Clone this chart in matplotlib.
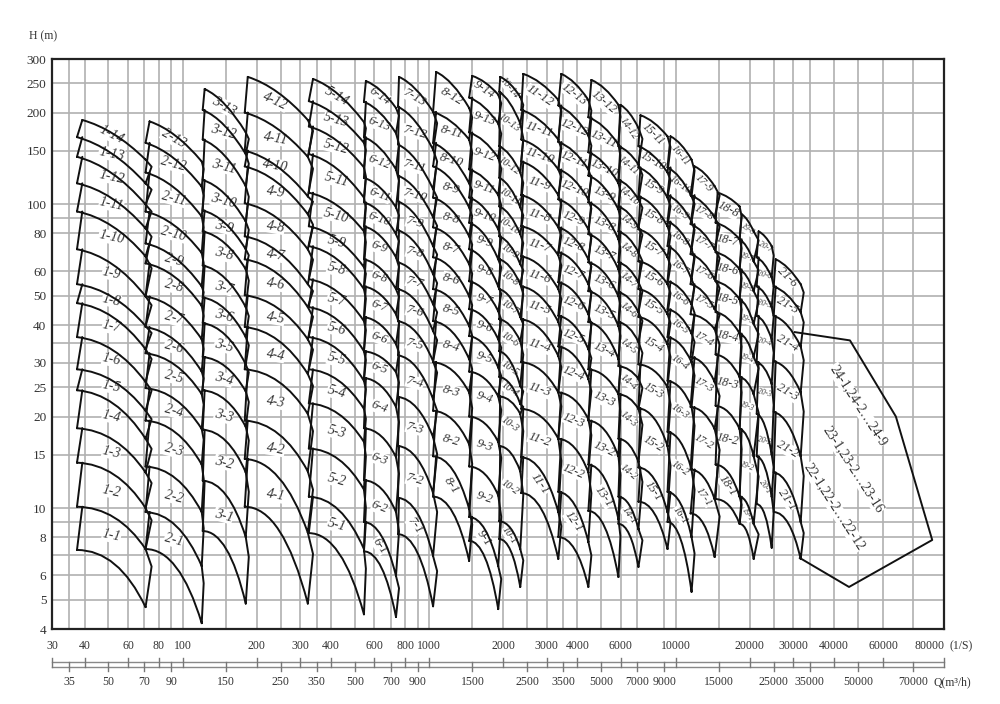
import numpy as np
import matplotlib
matplotlib.use('Agg')
import matplotlib.pyplot as plt
from matplotlib.patches import PathPatch
from matplotlib.path import Path

# Axis ticks and grid
q_upper = [30, 40, 60, 80, 100, 200, 300, 400, 600, 800, 1000, 2000, 3000, 4000, 6000, 10000, 20000, 30000, 40000, 60000, 80000]
q_lower = [35, 50, 70, 90, 150, 250, 350, 500, 700, 900, 1500, 2500, 3500, 5000, 7000, 9000, 15000, 25000, 35000, 50000, 70000]
h_labelled = [300, 250, 200, 150, 100, 80, 60, 50, 40, 30, 25, 20, 15, 10, 8, 6, 5, 4]
h_unlabelled = [90, 35, 9, 7]

# Columns of each pump family, Q at the lower/upper left corner, right end and right bulge
q_left_low = [37.4, 70.7, 120.6, 178.6, 325, 544, 748, 1038, 1454, 1926, 2366, 3345, 4429, 5866, 7072, 9279, 11508, 14540, 18200, 21350, 25020]
q_left_high = [39.2, 73.4, 122.8, 183.7, 338, 554, 755, 1068, 1496, 1944, 2411, 3440, 4555, 5976, 7205, 9543, 11946, 14820, 18550, 21740, 25500]
q_right = [70.7, 119.5, 180.3, 322, 544, 734, 1038, 1454, 1908, 2344, 3345, 4429, 5866, 7072, 9279, 11615, 14410, 18200, 20750, 24560, 32200]
q_bulge = [74.8, 121.7, 185.5, 338, 554, 755, 1078, 1496, 1962, 2411, 3440, 4555, 5976, 7340, 9543, 11946, 15100, 18550, 21740, 25020, 33130]

# Head at the left and right end of each curve, bottom curve first
h_left_1 = [7.28, 10.1, 14.1, 18.3, 24.4, 28.6, 36.5, 47.2, 54.5, 71, 94.5, 117, 143, 166, 189]
h_right_1 = [4.72, 7.33, 10, 13.1, 16.9, 20.9, 26, 33.3, 39.7, 49.7, 67.3, 83.2, 99.7, 117, 140]
h_left_2 = [7.33, 9.7, 13.7, 19.4, 24.8, 32.3, 39.4, 49.7, 63.8, 74.2, 94.5, 127, 159, 187]
h_right_2 = [4.18, 6.44, 9.7, 13.9, 18.2, 23.7, 28.1, 35.9, 46.2, 53.6, 69, 91, 114, 138]
h_left_3 = [8.4, 12.3, 18.1, 24.4, 31.4, 40.6, 49.3, 62.8, 81.3, 95.3, 120, 163, 204, 239]
h_right_3 = [4.85, 8.03, 13.1, 18.5, 24.2, 29.7, 36.5, 45.8, 61, 71, 87.6, 114.5, 146, 172]
h_left_4 = [10.1, 14.5, 19.4, 28.6, 39.4, 50.1, 65.8, 78.3, 100.6, 133, 150, 200, 262]
h_right_4 = [4.85, 8.3, 13.2, 20.4, 27.6, 35.9, 45.8, 54.5, 71, 92.6, 106, 143, 189]
h_left_5 = [8.27, 10.9, 15.7, 22.1, 28.6, 36.5, 45.8, 56.6, 72.7, 84.5, 109, 146, 180, 218, 258]
h_right_5 = [4.47, 7.33, 11.5, 16.5, 21.2, 26.2, 32.8, 41.2, 52.5, 62, 81.3, 105, 132, 159, 186]
h_left_6 = [7.2, 9, 12.35, 18.3, 26.8, 32.8, 42.5, 53.6, 65.8, 84.5, 101.3, 122, 166, 217, 254]
h_right_6 = [4.38, 5.98, 9.7, 14.7, 21.5, 28, 34.6, 43.4, 52.5, 66.8, 79.6, 97.5, 130, 171, 207]
h_left_7 = [8.2, 10.8, 16, 23.2, 31.8, 41.2, 52.5, 64.3, 82, 102, 124, 157, 209, 262]
h_right_7 = [4.75, 6.95, 11.2, 17.1, 22.8, 30.4, 38.2, 46.8, 58.8, 72.7, 90.5, 112, 151, 201]
h_left_8 = [10.9, 14.8, 20.9, 30.2, 41.2, 52.5, 66.8, 83.8, 105, 133, 159, 201, 272]
h_right_8 = [6.7, 9.93, 16.2, 24, 30.9, 39.7, 49.7, 63.4, 78.3, 97.5, 117, 163, 207]
h_left_9 = [7.8, 9.35, 13.7, 20, 28.1, 36.8, 45.1, 55.7, 71, 86.8, 105, 130, 172, 224, 264]
h_right_9 = [4.65, 6.44, 11, 16.5, 23.3, 29, 35.9, 44.4, 53.6, 65.8, 82.6, 107, 142, 184, 229]
h_left_10 = [7.91, 9.05, 16, 23.3, 27, 32.8, 41.8, 52.5, 65.8, 78.3, 98.2, 122, 155, 234, 262]
h_right_10 = [5.5, 7.33, 13.2, 20.4, 22, 25.2, 35.4, 42.5, 54.5, 63.4, 79.6, 97.5, 127, 184, 225]
h_left_11 = [11.2, 14.7, 21.2, 30.2, 41.8, 53.6, 67.3, 84.5, 107, 138, 163, 204, 268]
h_right_11 = [6.8, 9.7, 16.9, 24, 31.6, 40.9, 52.5, 67.8, 83.8, 107, 130, 163, 220]
h_left_12 = [8.03, 11.3, 16.9, 24, 34, 42.9, 55.3, 69.4, 83.8, 103.6, 130, 160, 211, 268]
h_right_12 = [5.5, 7.74, 13.1, 19.6, 26.6, 33.3, 43.4, 54.5, 65.8, 82.6, 103.6, 130, 168, 220]
h_left_13 = [9.78, 13.9, 19.4, 28.6, 40.9, 51.7, 64.3, 79.6, 101.3, 124, 148, 193, 256]
h_right_13 = [5.93, 9.2, 14.8, 23.7, 30.9, 39.7, 49.7, 61, 76.6, 96, 117, 157, 212]
h_left_14 = [8.87, 10.9, 16.9, 23.7, 29.3, 40.9, 51.3, 64.3, 81.3, 98.2, 120, 155, 212]
h_right_14 = [6.4, 8.53, 14.2, 21.2, 26.6, 35.2, 44.1, 55.3, 69.4, 83.8, 103.6, 135, 178]
h_left_15 = [10.5, 13.6, 21.3, 29.7, 42.5, 52.5, 64.8, 82.6, 106, 132, 155, 196]
h_right_15 = [7.33, 9.7, 16, 25, 34.6, 43.4, 54.5, 66.8, 84.5, 105, 127, 167]
h_left_16 = [9, 11.3, 17.8, 26.2, 36.5, 45.1, 55.7, 72.7, 87.6, 107, 132, 167]
h_right_16 = [5.3, 8.03, 13.4, 21.5, 30.2, 37.5, 46.8, 56.6, 71, 87.6, 106, 140]
h_left_17 = [9.6, 13.4, 21.5, 31.4, 43.4, 54.5, 68.4, 85.9, 107, 133]
h_right_17 = [6.9, 10.7, 18.2, 26, 38.8, 45.1, 56.6, 71, 90.5, 114.5]
h_left_18 = [10.7, 13.9, 21.7, 32, 44.1, 55.7, 69.4, 86.8, 109]
h_right_18 = [8.87, 10.9, 18.2, 27, 37.5, 48.6, 61, 76.6, 98.2]
h_left_19 = [8.87, 10.9, 18.2, 27, 37.5, 48.6, 61, 76.6, 92.6]
h_right_19 = [6.8, 8.87, 14.8, 23.7, 31.4, 40.3, 51.7, 64.8, 81.3]
h_left_20 = [10.3, 14.8, 20.4, 30.2, 42.9, 53.6, 66.8, 81.3]
h_right_20 = [7.4, 10.9, 15, 25.6, 35.9, 45.8, 57.5, 72.7]
h_left_21 = [9.7, 13.1, 20.7, 30.4, 42.9, 53.6, 65.8]
h_right_21 = [6.8, 9, 14.8, 24, 34, 44.1, 54.5]

h_left = [h_left_1, h_left_2, h_left_3, h_left_4, h_left_5, h_left_6, h_left_7,
          h_left_8, h_left_9, h_left_10, h_left_11, h_left_12, h_left_13, h_left_14,
          h_left_15, h_left_16, h_left_17, h_left_18, h_left_19, h_left_20, h_left_21]
h_right = [h_right_1, h_right_2, h_right_3, h_right_4, h_right_5, h_right_6, h_right_7,
           h_right_8, h_right_9, h_right_10, h_right_11, h_right_12, h_right_13, h_right_14,
           h_right_15, h_right_16, h_right_17, h_right_18, h_right_19, h_right_20, h_right_21]

# Big open polygon for series 22 to 24
poly_q = [30500, 46400, 64100, 81800, 46000, 31950]
poly_h = [37.9, 35.6, 20, 7.85, 5.5, 6.85]
poly_labels = ['24-1,24-2\u202624-9', '23-1,23-2\u202623-16', '22-1,22-2\u202622-12']
poly_label_q = [50000, 47800, 40000]
poly_label_h = [21.8, 13.4, 10.1]

label_rot = [-12, -15, -15, -10, -15, -20, -15, -15, -18, -35, -18, -22, -25, -40, -30, -35, -30, -12, -20, -15, -30]
label_size = [10, 10, 10, 10, 10, 9, 9.5, 9.5, 9, 7.5, 9.5, 9, 9, 7.5, 8.5, 7.5, 8, 9, 5.5, 5.5, 9]

# The printed Q axis is log up to 35000 and stretched after that
anchor_q = np.log10([30, 40, 35000, 40000, 50000, 60000, 70000, 90000])
anchor_pos = np.array([52, 84.6, 809.6, 834, 858, 883, 913, 944.0])


def forward(x):
    a = np.asarray(x, dtype=float)
    return np.interp(np.log10(np.clip(a, 1, None)).ravel(), anchor_q, anchor_pos).reshape(a.shape)


def inverse(v):
    a = np.asarray(v, dtype=float)
    return (10 ** np.interp(a.ravel(), anchor_pos, anchor_q)).reshape(a.shape)


plt.rcParams['font.family'] = ['Liberation Serif']
tick_font = 8.5
line_col = '#111111'
text_col = '#333333'

fig = plt.figure(figsize=(10, 7.04), dpi=100)
ax = fig.add_axes([0.052, 1 - 629 / 704, 0.892, 570 / 704])
ax.set_xscale('function', functions=(forward, inverse))
ax.set_yscale('log')
ax.set_xlim(30, 90000)
ax.set_ylim(4, 300)

grid_q = sorted(set(q_upper + q_lower) - {80000})
ax.set_xticks(grid_q)
ax.set_xticklabels([])
ax.set_yticks(h_labelled + h_unlabelled)
ax.set_yticklabels([str(h) for h in h_labelled] + [''] * len(h_unlabelled), fontsize=9.5, color=text_col)
ax.xaxis.set_minor_locator(plt.NullLocator())
ax.yaxis.set_minor_locator(plt.NullLocator())
ax.tick_params(length=0, pad=4)
ax.grid(True, color='#b0b0b0', linewidth=1.2)
ax.set_axisbelow(True)
for s in ax.spines.values():
    s.set_linewidth(1.6)
    s.set_color('#222222')

# Pump families
for f in range(len(h_left)):
    xa, xb, xr, xs = q_left_low[f], q_left_high[f], q_right[f], q_bulge[f]
    verts = []
    codes = []
    n = len(h_left[f])
    for k in range(n):
        hl, hr = h_left[f][k], h_right[f][k]
        start = xb if k == n - 1 else xa
        up = k / (n - 1)
        cf = 0.6 - 0.1 * up
        xc = start ** (1 - cf) * xr ** cf
        hc = hl * (hr / hl) ** (0.22 * up)
        verts += [(start, hl), (xc, hc), (xr, hr)]
        codes += [Path.MOVETO, Path.CURVE3, Path.CURVE3]
        if k < n - 1:
            # left edge up to the next curve
            verts += [(xa, hl), (xb, h_left[f][k + 1])]
            codes += [Path.MOVETO, Path.LINETO]
            # right edge with its bulge
            hu = h_right[f][k + 1]
            verts += [(xr, hu), (xs, hu ** 0.7 * hr ** 0.3), (xr, hr)]
            codes += [Path.MOVETO, Path.LINETO, Path.LINETO]
    ax.add_patch(PathPatch(Path(verts, codes), fill=False, edgecolor=line_col, linewidth=1.4,
                           capstyle='round', joinstyle='round', zorder=3))

    # region labels sit under the curves and cut the grid
    lx = xb ** 0.54 * xr ** 0.46
    for k in range(n - 1):
        lo = h_left[f][k] * (h_right[f][k] / h_left[f][k]) ** 0.15
        up = h_left[f][k + 1] * (h_right[f][k + 1] / h_left[f][k + 1]) ** 0.15
        rot = label_rot[f]
        if k == 0 and f >= 5:
            rot = -55
        if k == n - 2:
            rot -= 15
        ax.text(lx, (lo * up) ** 0.5, f'{f + 1}-{k + 1}', fontsize=label_size[f], style='italic',
                color=text_col, rotation=rot, rotation_mode='anchor', ha='center', va='center',
                zorder=2.5, bbox=dict(facecolor='white', edgecolor='none', pad=0.2))

ax.plot(poly_q, poly_h, color=line_col, linewidth=1.4, zorder=3)
for q, h, t in zip(poly_label_q, poly_label_h, poly_labels):
    ax.text(q, h, t, fontsize=10, color=text_col, rotation=-57, rotation_mode='anchor',
            ha='center', va='center', zorder=2.5, bbox=dict(facecolor='white', edgecolor='none', pad=0.3))

# Double ruler under the axes
tr = ax.get_xaxis_transform()
for y in (-0.058, -0.0667):
    ax.plot([30, 90000], [y, y], transform=tr, color='#888888', linewidth=1, clip_on=False)
for q in q_upper[:-1]:
    ax.plot([q, q], [-0.051, -0.0667], transform=tr, color='#777777', linewidth=1, clip_on=False)
    ax.text(q, -0.0298, str(q), transform=tr, fontsize=tick_font, color=text_col, ha='center', va='center')
ax.text(80000, -0.0298, '80000', transform=tr, fontsize=tick_font, color=text_col, ha='center', va='center')
for q in q_lower:
    ax.plot([q, q], [-0.058, -0.074], transform=tr, color='#777777', linewidth=1, clip_on=False)
    ax.text(q, -0.093, str(q), transform=tr, fontsize=tick_font, color=text_col, ha='center', va='center')
ax.plot([90000, 90000], [-0.051, -0.0667], transform=tr, color='#777777', linewidth=1, clip_on=False)

fig.text(43 / 1000, 1 - 36 / 704, 'H (m)', fontsize=8.5, color=text_col, ha='center', va='center')
fig.text(961 / 1000, 1 - 646 / 704, '(1/S)', fontsize=tick_font, color=text_col, ha='center', va='center')
fig.text(952 / 1000, 1 - 682 / 704, 'Q(m\u00b3/h)', fontsize=tick_font, color=text_col, ha='center', va='center')

fig.savefig('out.png', dpi=100)
